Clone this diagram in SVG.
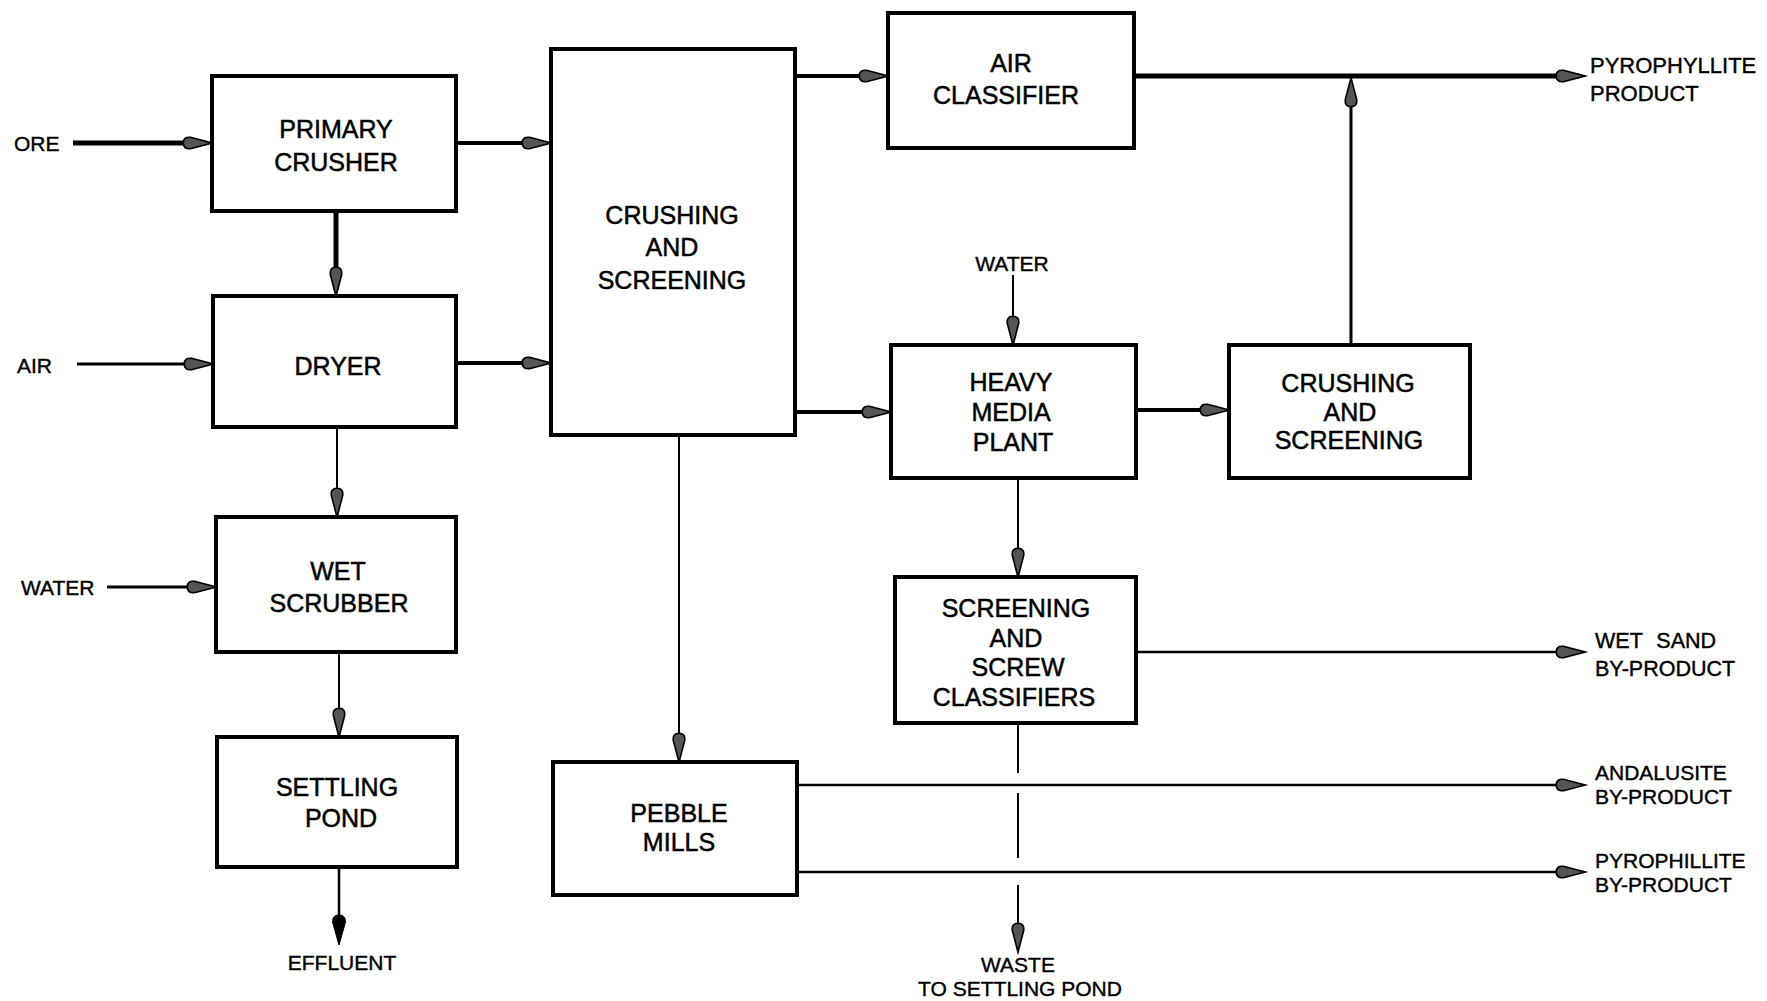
<svg xmlns="http://www.w3.org/2000/svg" width="1767" height="1001" viewBox="0 0 1767 1001">
<style>
.box{fill:#fff;stroke:#000;stroke-width:4}
.bt{font-family:"Liberation Sans",Arial,sans-serif;font-size:25px;text-anchor:middle;fill:#000;stroke:#000;stroke-width:0.5}
.lt{font-family:"Liberation Sans",Arial,sans-serif;font-size:21px;fill:#000;stroke:#000;stroke-width:0.4}
.lc{text-anchor:middle}
.c{fill:none;stroke:#000;stroke-linecap:butt}
.w5{stroke-width:5}
.w4{stroke-width:4}
.w3{stroke-width:3}
.w2{stroke-width:2}
.w25{stroke-width:2.5}
.a{marker-end:url(#ah)}
.as{marker-end:url(#ahs)}
</style>
<defs>
<marker id="ah" viewBox="0 0 28 14" refX="22" refY="7" markerWidth="29" markerHeight="15" markerUnits="userSpaceOnUse" orient="auto" overflow="visible">
<path d="M0,7 C0,2.5 3,1 7,1.5 L28,7 L7,12.5 C3,13 0,11.5 0,7 Z" fill="#555" stroke="#000" stroke-width="1.6"/>
</marker>
<marker id="ahs" viewBox="0 0 30 16" refX="24" refY="8" markerWidth="30" markerHeight="16" markerUnits="userSpaceOnUse" orient="auto" overflow="visible">
<path d="M0,8 C0,3 3,1.5 7,1.5 L30,8 L7,14.5 C3,14.5 0,13 0,8 Z" fill="#000" stroke="#000" stroke-width="1"/>
</marker>
</defs>
<rect width="1767" height="1001" fill="#fff"/>

<g id="connectors">
<path class="c w5 a" d="M73,143 H206"/>
<path class="c w4 a" d="M456,143 H545"/>
<path class="c w5 a" d="M336,211 V290"/>
<path class="c w3 a" d="M77,364 H207"/>
<path class="c w4 a" d="M456,363 H545"/>
<path class="c w2 a" d="M337,427 V511"/>
<path class="c w3 a" d="M107,587 H210"/>
<path class="c w2 a" d="M339,652 V731"/>
<path class="c w25 as" d="M339,867 V939"/>
<path class="c w4 a" d="M795,76 H882"/>
<path class="c w5 a" d="M1134,76 H1579"/>
<path class="c w3 a" d="M1351,345 V84"/>
<path class="c w2 a" d="M1013,275 V339"/>
<path class="c w4 a" d="M795,412 H885"/>
<path class="c w4 a" d="M1136,410 H1223"/>
<path class="c w2 a" d="M1018,478 V571"/>
<path class="c w25 a" d="M1136,652 H1579"/>
<path class="c w2 a" d="M679,435 V756"/>
<path class="c w25 a" d="M797,785 H1579"/>
<path class="c w25 a" d="M797,872 H1579"/>
<path class="c w2 a" d="M1018,723 V773 M1018,793 V858 M1018,885 V946"/>
</g>

<g id="primary-crusher">
<rect class="box" x="212" y="76" width="244" height="135"/>
<text class="bt" x="336" y="138">PRIMARY</text>
<text class="bt" x="336" y="171">CRUSHER</text>
</g>
<g id="dryer">
<rect class="box" x="213" y="296" width="243" height="131"/>
<text class="bt" x="338" y="375">DRYER</text>
</g>
<g id="wet-scrubber">
<rect class="box" x="216" y="517" width="240" height="135"/>
<text class="bt" x="338" y="580">WET</text>
<text class="bt" x="339" y="612">SCRUBBER</text>
</g>
<g id="settling-pond">
<rect class="box" x="217" y="737" width="240" height="130"/>
<text class="bt" x="337" y="796">SETTLING</text>
<text class="bt" x="341" y="827">POND</text>
</g>
<g id="crushing-screening-1">
<rect class="box" x="551" y="49" width="244" height="386"/>
<text class="bt" x="672" y="224">CRUSHING</text>
<text class="bt" x="672" y="256">AND</text>
<text class="bt" x="672" y="289">SCREENING</text>
</g>
<g id="air-classifier">
<rect class="box" x="888" y="13" width="246" height="135"/>
<text class="bt" x="1011" y="72">AIR</text>
<text class="bt" x="1006" y="104">CLASSIFIER</text>
</g>
<g id="heavy-media-plant">
<rect class="box" x="891" y="345" width="245" height="133"/>
<text class="bt" x="1011" y="391">HEAVY</text>
<text class="bt" x="1011" y="421">MEDIA</text>
<text class="bt" x="1013" y="451">PLANT</text>
</g>
<g id="crushing-screening-2">
<rect class="box" x="1229" y="345" width="241" height="133"/>
<text class="bt" x="1348" y="392">CRUSHING</text>
<text class="bt" x="1350" y="421">AND</text>
<text class="bt" x="1349" y="449">SCREENING</text>
</g>
<g id="screening-screw-classifiers">
<rect class="box" x="895" y="577" width="241" height="146"/>
<text class="bt" x="1016" y="617">SCREENING</text>
<text class="bt" x="1016" y="647">AND</text>
<text class="bt" x="1018" y="676">SCREW</text>
<text class="bt" x="1014" y="706">CLASSIFIERS</text>
</g>
<g id="pebble-mills">
<rect class="box" x="553" y="762" width="244" height="133"/>
<text class="bt" x="679" y="822">PEBBLE</text>
<text class="bt" x="679" y="851">MILLS</text>
</g>

<g id="labels">
<text class="lt" x="14" y="151">ORE</text>
<text class="lt" x="17" y="373">AIR</text>
<text class="lt" x="21" y="595">WATER</text>
<text class="lt lc" x="1012" y="271">WATER</text>
<text class="lt lc" x="342" y="970">EFFLUENT</text>
<text class="lt lc" x="1018" y="972">WASTE</text>
<text class="lt lc" x="1020" y="996">TO SETTLING POND</text>
<text class="lt" x="1590" y="73" style="font-size:22px">PYROPHYLLITE</text>
<text class="lt" x="1590" y="101" style="font-size:22px">PRODUCT</text>
<text class="lt" x="1595" y="648" style="font-size:21.5px;word-spacing:8px">WET SAND</text>
<text class="lt" x="1595" y="676" style="font-size:21.5px">BY-PRODUCT</text>
<text class="lt" x="1595" y="780" style="font-size:21px">ANDALUSITE</text>
<text class="lt" x="1595" y="804" style="font-size:21px">BY-PRODUCT</text>
<text class="lt" x="1595" y="868" style="font-size:21px">PYROPHILLITE</text>
<text class="lt" x="1595" y="892" style="font-size:21px">BY-PRODUCT</text>
</g>
</svg>
